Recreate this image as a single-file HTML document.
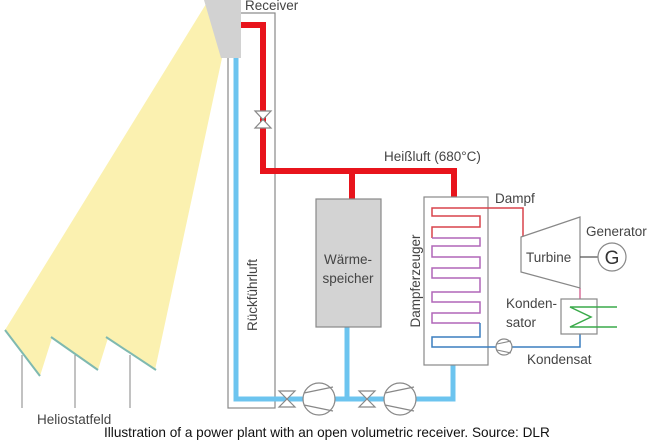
<!DOCTYPE html>
<html><head><meta charset="utf-8"><style>
html,body{margin:0;padding:0;background:#fff;width:650px;height:440px;overflow:hidden}
svg{display:block}
text{font-family:"Liberation Sans",sans-serif;fill:#444}
</style></head><body>
<svg width="650" height="440" viewBox="0 0 650 440" xmlns="http://www.w3.org/2000/svg">
<polygon points="206,4 222,58 155,370 108,338 98,370 52,338 40,376 5,330" fill="#fbf1b0"/>
<g stroke="#7fb9b0" stroke-width="2"><line x1="5" y1="330" x2="40" y2="376"/><line x1="51" y1="337" x2="98" y2="370"/><line x1="106" y1="337" x2="156" y2="370"/></g>
<g stroke="#999" stroke-width="1.2"><line x1="22" y1="355" x2="22" y2="408"/><line x1="75" y1="355" x2="75" y2="408"/><line x1="130" y1="355" x2="130" y2="408"/></g>
<rect x="228" y="13" width="47" height="395" fill="none" stroke="#888" stroke-width="1.2"/>
<polygon points="204,0 241,0 241,58 221,58" fill="#d2d2d2"/>
<g stroke="#6cc4ef" stroke-width="5" fill="none">
<polyline points="236,58 236,399 453,399 453,365"/>
<line x1="347" y1="327" x2="347" y2="399"/>
</g>
<g stroke="#e8141c" stroke-width="6" fill="none">
<polyline points="241,25 263,25 263,171 454,171 454,197"/>
<line x1="352" y1="171" x2="352" y2="199"/>
</g>
<g fill="#fff" stroke="#888" stroke-width="1.2"><polygon points="255,111 271,111 255,128 271,128"/></g>
<rect x="316" y="199" width="65" height="128" fill="#d3d3d3" stroke="#888" stroke-width="1.2"/>
<rect x="424" y="197" width="64" height="168" fill="#fff" stroke="#888" stroke-width="1.2"/>
<polyline points="523,237 523,208 432,208 432,216 480,216 480,227 432,227 432,238" fill="none" stroke="#d8434b" stroke-width="1.5"/>
<polyline points="432,238 480,238 480,246 432,246 432,257 480,257 480,268 432,268 432,278 480,278 480,292 432,292 432,302 480,302 480,313 432,313 432,323 480,323" fill="none" stroke="#b067b8" stroke-width="1.5"/>
<polyline points="480,323 480,337 432,337 432,347 497,347" fill="none" stroke="#3b7fbf" stroke-width="1.5"/>
<polyline points="512,347 580,347 580,334" fill="none" stroke="#3b7fbf" stroke-width="1.5"/>
<circle cx="504" cy="347" r="8" fill="#fff" stroke="#888" stroke-width="1.2"/>
<line x1="497" y1="344" x2="511" y2="341" stroke="#888"/><line x1="497" y1="350" x2="511" y2="353" stroke="#888"/>
<line x1="580" y1="288" x2="580" y2="299" stroke="#d8709a" stroke-width="1.5"/>
<polygon points="521,237 580,217 580,288 521,272" fill="#fff" stroke="#888" stroke-width="1.2"/>
<line x1="580" y1="257" x2="598" y2="257" stroke="#555" stroke-width="1.2"/>
<circle cx="612" cy="257" r="14" fill="#fff" stroke="#888" stroke-width="1.2"/>
<text x="612" y="264" font-size="19" text-anchor="middle" style="fill:#333">G</text>
<rect x="561" y="299" width="36" height="35" fill="#fff" stroke="#888" stroke-width="1.2"/>
<polyline points="617,307 570,307 591,317 570,327 617,327" fill="none" stroke="#3aaa4a" stroke-width="1.5"/>
<g fill="#fff" stroke="#888" stroke-width="1.2">
<polygon points="279,391 295,391 279,407 295,407"/>
<polygon points="359,391 375,391 359,407 375,407"/>
<circle cx="319" cy="399" r="16"/><circle cx="400" cy="399" r="16"/>
</g>
<g stroke="#888" stroke-width="1.2"><line x1="304" y1="393" x2="333" y2="387"/><line x1="304" y1="405" x2="333" y2="411"/><line x1="385" y1="393" x2="414" y2="387"/><line x1="385" y1="405" x2="414" y2="411"/></g>
<g font-size="13.5">
<text x="245" y="10">Receiver</text>
<text x="384" y="161">Heißluft (680°C)</text>
<text x="495" y="203">Dampf</text>
<text x="586" y="236">Generator</text>
<text x="526" y="262">Turbine</text>
<text x="506" y="308">Konden-</text>
<text x="506" y="327">sator</text>
<text x="527" y="364">Kondensat</text>
<text x="348" y="264" text-anchor="middle">Wärme-</text>
<text x="348" y="283" text-anchor="middle">speicher</text>
<text transform="translate(420,281) rotate(-90)" text-anchor="middle">Dampferzeuger</text>
<text transform="translate(257,295) rotate(-90)" text-anchor="middle">Rückführluft</text>
<text x="37" y="424">Heliostatfeld</text>
<text x="104" y="437" font-size="13.6" style="fill:#111">Illustration of a power plant with an open volumetric receiver. Source: DLR</text>
</g>
</svg>
</body></html>
